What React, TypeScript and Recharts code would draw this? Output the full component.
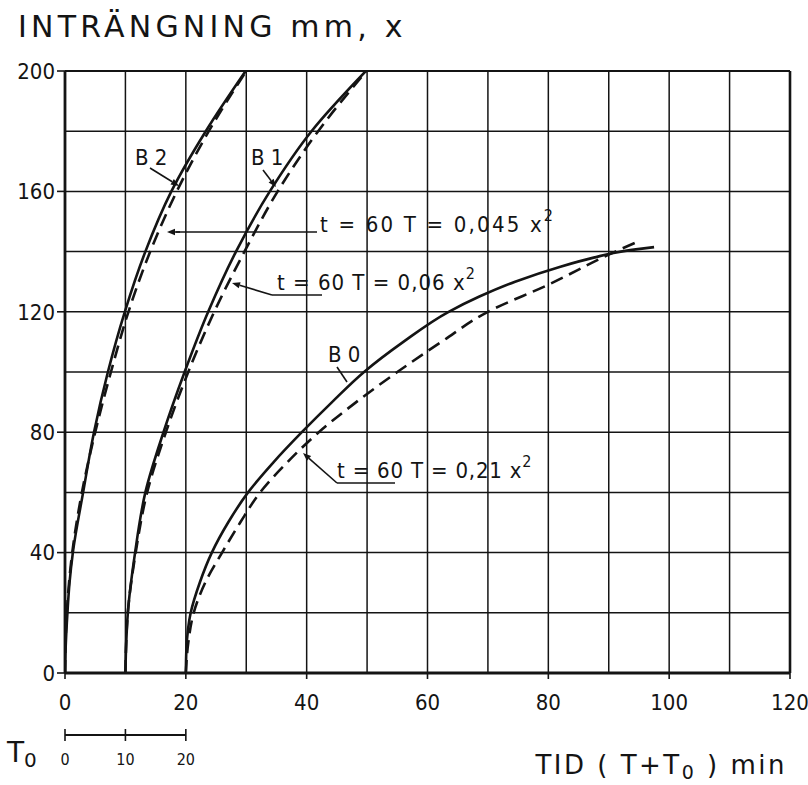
import React from 'react';
import { LineChart, Line, XAxis, YAxis, CartesianGrid } from 'recharts';

// axis ticks and grid
const xTicks = [0, 20, 40, 60, 80, 100, 120];
const yTicks = [0, 40, 80, 120, 160, 200];
const gridX = [0, 10, 20, 30, 40, 50, 60, 70, 80, 90, 100, 110, 120];
const gridY = [0, 20, 40, 60, 80, 100, 120, 140, 160, 180, 200];

// B2, measured (solid): depth x (mm) -> time T+T0 (min)
const b2Depth = [0, 8, 20, 30, 40, 60, 80, 100, 120, 140, 160, 180, 200];
const b2Time = [0, 0.1, 0.4, 0.75, 1.3, 3.0, 4.8, 7.1, 9.9, 13.3, 17.6, 23.3, 29.9];
// B2, t = 60T = 0.045 x^2 (dashed)
const b2CalcDepth = [0, 20, 40, 60, 80, 100, 120, 140, 160, 180, 200];
const b2CalcTime = [0, 0.3, 1.2, 2.8, 5.0, 7.6, 10.5, 14.1, 18.5, 23.8, 30.0];

// B1
const b1Depth = [0, 8, 20, 40, 60, 80, 100, 120, 140, 160, 180, 200];
const b1Time = [10, 10.1, 10.4, 11.6, 13.3, 16.3, 19.8, 23.7, 28.3, 33.9, 40.8, 49.8];
const b1CalcDepth = [0, 20, 40, 60, 80, 100, 120, 140, 160, 180, 200];
const b1CalcTime = [10, 10.4, 11.7, 13.6, 16.7, 20.4, 24.7, 29.7, 35.2, 41.9, 49.9];

// B0
const b0Depth = [0, 8, 20, 30, 40, 50, 60, 70, 80, 90, 100, 110, 120, 125, 130, 135, 138, 140, 141, 141.5];
const b0Time = [20, 20.1, 20.8, 22.3, 24.3, 27.0, 30.3, 34.5, 39.2, 44.2, 49.5, 56.0, 63.5, 68.5, 74.5, 82.0, 87.5, 92.0, 95.5, 97.5];
const b0CalcDepth = [0, 10, 20, 30, 40, 50, 60, 70, 80, 90, 100, 110, 120, 129, 139, 143.5];
const b0CalcTime = [20, 20.4, 21.3, 23.2, 26.0, 29.0, 32.3, 36.8, 42.0, 48.2, 55.0, 62.3, 70.0, 80.0, 90.0, 95.0];

const toRows = (d: number[], t: number[]) => d.map((v, i) => ({ d: v, t: t[i] }));

const INK = '#141414';
const FONT = "'DejaVu Sans Condensed', 'DejaVu Sans', sans-serif";
const WIDE = "'DejaVu Sans', sans-serif";

// plot box in page pixels (matches chart margins below)
const L = 65, R = 790, TOP = 71, BOT = 673;
const px = (t: number) => L + (t / 120) * (R - L);
const py = (x: number) => BOT - (x / 200) * (BOT - TOP);

function Arrow({ x1, y1, x2, y2 }: { x1: number; y1: number; x2: number; y2: number }) {
  const a = Math.atan2(y2 - y1, x2 - x1);
  const s = 8, w = 3.2;
  const bx = x2 - s * Math.cos(a), by = y2 - s * Math.sin(a);
  const p = `${x2},${y2} ${bx - w * Math.sin(a)},${by + w * Math.cos(a)} ${bx + w * Math.sin(a)},${by - w * Math.cos(a)}`;
  return (
    <g>
      <line x1={x1} y1={y1} x2={bx} y2={by} stroke={INK} strokeWidth={1.6} />
      <polygon points={p} fill={INK} />
    </g>
  );
}

function Overlay() {
  return (
    <svg width={808} height={785} style={{ position: 'absolute', left: 0, top: 0, pointerEvents: 'none' }}>
      <text x={18} y={37} fontFamily={WIDE} fontSize={30} letterSpacing={4.2} fill={INK}>INTRÄNGNING mm, x</text>

      {/* curve labels */}
      <text x={135} y={165} fontFamily={FONT} fontSize={22} fill={INK}>B 2</text>
      <Arrow x1={150} y1={168} x2={179} y2={186} />
      <text x={251} y={165} fontFamily={FONT} fontSize={22} fill={INK}>B 1</text>
      <Arrow x1={263} y1={170} x2={276} y2={187} />
      <text x={328} y={362} fontFamily={FONT} fontSize={22} fill={INK}>B 0</text>
      <line x1={337} y1={367} x2={347} y2={382} stroke={INK} strokeWidth={1.6} />

      {/* formula annotations */}
      <line x1={317} y1={232} x2={176} y2={232} stroke={INK} strokeWidth={1.6} />
      <Arrow x1={180} y1={232} x2={167} y2={232} />
      <text x={320} y={232} fontFamily={FONT} fontSize={22} letterSpacing={2.2} fill={INK}>
        t = 60 T = 0,045 x<tspan dy={-11} fontSize={16}>2</tspan>
      </text>

      <line x1={322} y1={295} x2={272} y2={295} stroke={INK} strokeWidth={1.6} />
      <Arrow x1={272} y1={295} x2={232} y2={283} />
      <text x={277} y={290} fontFamily={FONT} fontSize={22} letterSpacing={1} fill={INK}>
        t = 60 T = 0,06 x<tspan dy={-11} fontSize={16}>2</tspan>
      </text>

      <line x1={395} y1={483} x2={337} y2={483} stroke={INK} strokeWidth={1.6} />
      <Arrow x1={337} y1={483} x2={303} y2={453} />
      <text x={337} y={478} fontFamily={FONT} fontSize={22} letterSpacing={0.8} fill={INK}>
        t = 60 T = 0,21 x<tspan dy={-11} fontSize={16}>2</tspan>
      </text>

      {/* T0 scale */}
      <text x={7} y={762} fontFamily={WIDE} fontSize={28} fill={INK}>
        T<tspan dy={5} fontSize={20}>0</tspan>
      </text>
      <line x1={px(0)} y1={735} x2={px(20)} y2={735} stroke={INK} strokeWidth={2} />
      {[0, 10, 20].map((v) => (
        <g key={v}>
          <line x1={px(v)} y1={729} x2={px(v)} y2={741} stroke={INK} strokeWidth={1.6} />
          <text x={px(v)} y={765} textAnchor="middle" fontFamily={FONT} fontSize={16} fill={INK}>{v}</text>
        </g>
      ))}

      {/* x axis title */}
      <text x={787} y={774} textAnchor="end" fontFamily={WIDE} fontSize={26} letterSpacing={2.5} fill={INK}>
        TID ( T+T<tspan dy={5} fontSize={19}>0</tspan><tspan dy={-5}> ) min</tspan>
      </text>

      {/* heavier frame top / right */}
      <line x1={L} y1={py(200)} x2={R} y2={py(200)} stroke={INK} strokeWidth={2.2} />
      <line x1={R} y1={py(200)} x2={R} y2={BOT} stroke={INK} strokeWidth={2.6} />
    </svg>
  );
}

export default function App() {
  const solid = { type: 'monotone' as const, dataKey: 't', stroke: INK, strokeWidth: 2.6, dot: false, isAnimationActive: false };
  const dashed = { ...solid, strokeDasharray: '13 7' };
  return (
    <div style={{ position: 'absolute', left: 0, top: 0, width: 808, height: 785, background: '#fff' }}>
      <LineChart layout="vertical" width={808} height={785} margin={{ top: 71, right: 18, left: 5, bottom: 82 }}>
        <CartesianGrid stroke={INK} strokeWidth={1.5} horizontalValues={gridY} verticalValues={gridX} />
        <XAxis
          type="number"
          domain={[0, 120]}
          ticks={xTicks}
          height={30}
          axisLine={{ stroke: INK, strokeWidth: 2.8 }}
          tickLine={{ stroke: INK, strokeWidth: 1.6 }}
          tickSize={6}
          tickMargin={15}
          tick={{ fill: INK, fontSize: 22, fontFamily: FONT }}
          allowDataOverflow
        />
        <YAxis
          dataKey="d"
          type="number"
          domain={[0, 200]}
          ticks={yTicks}
          reversed
          width={60}
          axisLine={{ stroke: INK, strokeWidth: 2.8 }}
          tickLine={{ stroke: INK, strokeWidth: 1.6 }}
          tickSize={8}
          tickMargin={2}
          tick={{ fill: INK, fontSize: 22, fontFamily: FONT }}
          allowDataOverflow
        />
        <Line {...solid} data={toRows(b2Depth, b2Time)} />
        <Line {...dashed} data={toRows(b2CalcDepth, b2CalcTime)} />
        <Line {...solid} data={toRows(b1Depth, b1Time)} />
        <Line {...dashed} data={toRows(b1CalcDepth, b1CalcTime)} />
        <Line {...solid} data={toRows(b0Depth, b0Time)} />
        <Line {...dashed} data={toRows(b0CalcDepth, b0CalcTime)} />
      </LineChart>
      <Overlay />
    </div>
  );
}
